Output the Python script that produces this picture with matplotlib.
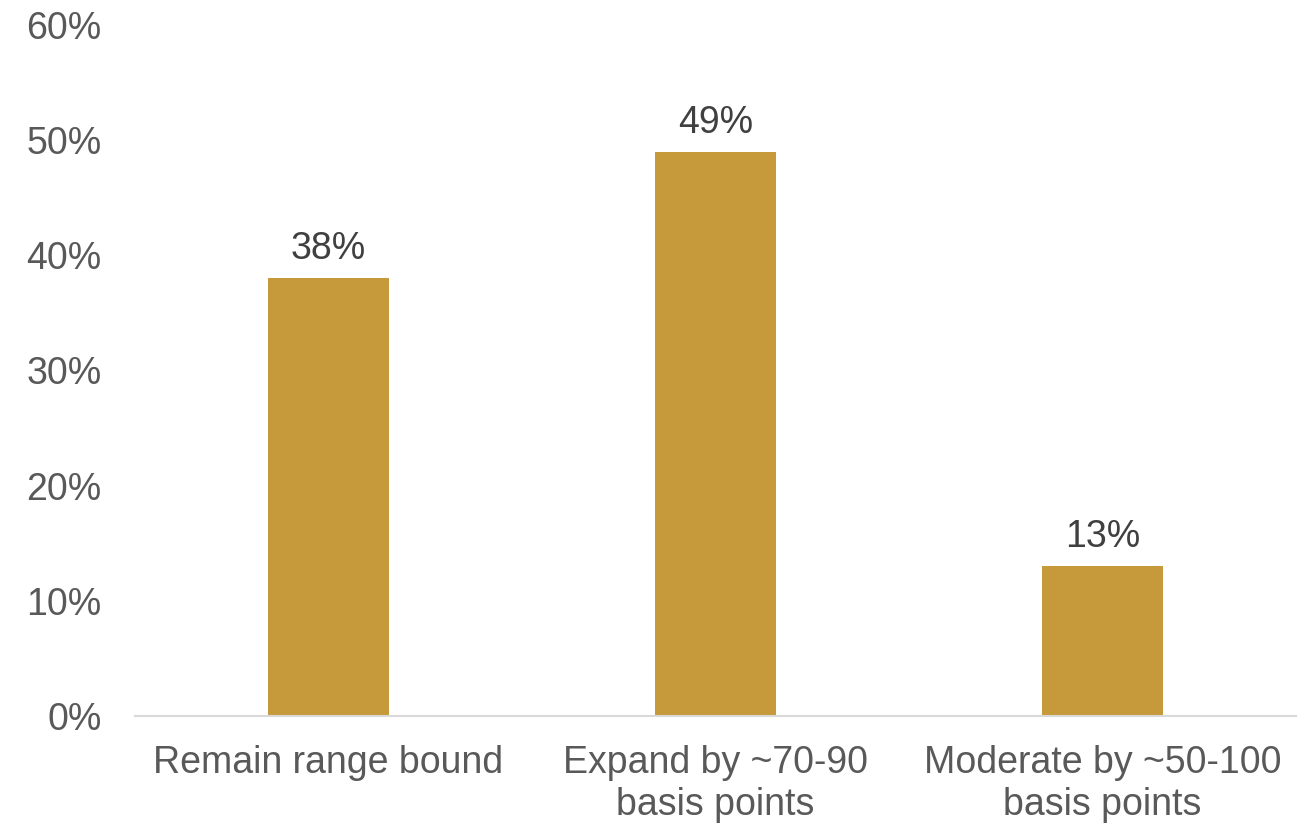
import matplotlib
matplotlib.use("Agg")
import matplotlib.pyplot as plt
from matplotlib.ticker import PercentFormatter

categories = ["Remain range bound", "Expand by ~70-90\nbasis points", "Moderate by ~50-100\nbasis points"]
values = [38, 49, 13]
y_ticks = [0, 10, 20, 30, 40, 50, 60]

plt.rcParams["font.family"] = ["Liberation Sans", "DejaVu Sans"]

fig = plt.figure(figsize=(13.16, 8.24), dpi=100)
ax = fig.add_axes([135 / 1316, 108 / 824, (1296 - 135) / 1316, (716 - 25) / 824])

x = range(len(categories))
bars = ax.bar(x, values, width=0.313, color="#C69A3B", zorder=2)
ax.set_xlim(-0.5, len(categories) - 0.5)
ax.set_ylim(0, 60)
ax.set_yticks(y_ticks)
ax.yaxis.set_major_formatter(PercentFormatter(decimals=0))
ax.set_xticks(list(x))
ax.set_xticklabels(categories, linespacing=1.22)

for spine in ["top", "right", "left"]:
    ax.spines[spine].set_visible(False)
ax.spines["bottom"].set_color("#D9D9D9")
ax.spines["bottom"].set_linewidth(1.5)

ax.tick_params(axis="both", length=0, labelsize=27, colors="#595959")
ax.tick_params(axis="x", pad=21)
ax.tick_params(axis="y", pad=24)

for b, v in zip(bars, values):
    ax.annotate(f"{v}%", (b.get_x() + b.get_width() / 2, v), xytext=(0, 8),
                textcoords="offset points", ha="center", va="bottom",
                fontsize=27, color="#404040")

fig.savefig("out.png", dpi=100, facecolor="white")
